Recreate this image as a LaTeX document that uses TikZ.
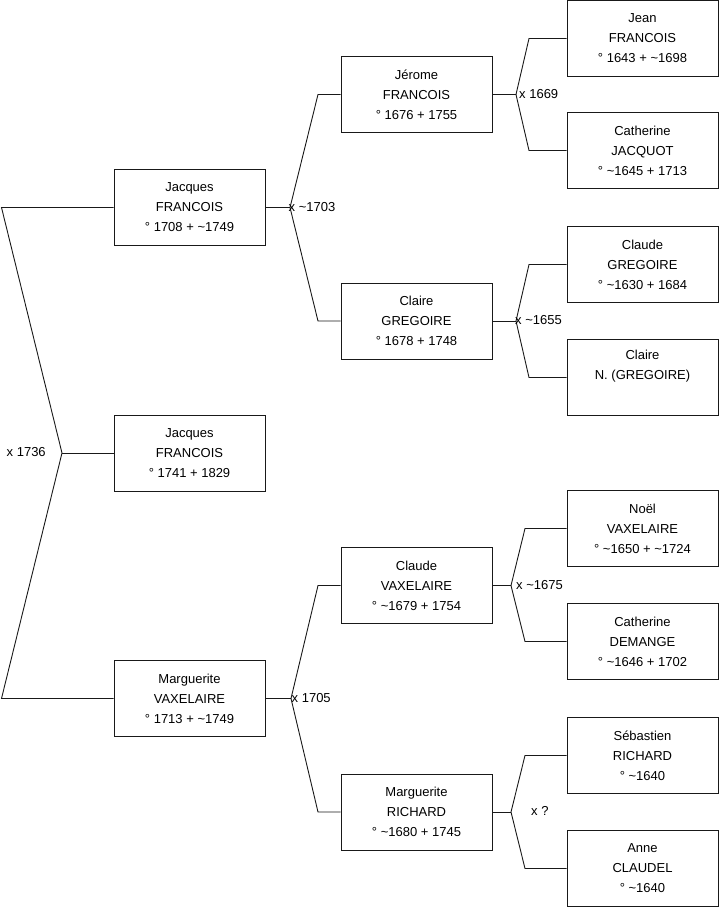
\documentclass[tikz,border=0pt]{standalone}
\usepackage{fontspec}
\setmainfont{Liberation Sans}
\begin{document}
\begin{tikzpicture}[x=1pt,y=-1pt,
  person/.style={draw=black!90, line width=0.9pt, minimum width=151pt, minimum height=76pt,
    align=center, inner sep=0pt, font=\fontsize{13}{20}\selectfont},
  link/.style={draw=black!90, line width=0.9pt},
  marr/.style={anchor=base west, inner sep=0pt, font=\fontsize{13}{15}\selectfont}]
\useasboundingbox (0,0) rectangle (719,908);
% column 1
\node[person] (a1) at (189.5,207.5) {Jacques\\FRANCOIS\\° 1708 + \textasciitilde1749};
\node[person] (a0) at (189.5,453) {Jacques\\FRANCOIS\\° 1741 + 1829};
\node[person] (a2) at (189.5,698.5) {Marguerite\\VAXELAIRE\\° 1713 + \textasciitilde1749};
% column 2
\node[person] (b1) at (416.5,94.5) {Jérome\\FRANCOIS\\° 1676 + 1755};
\node[person] (b2) at (416.5,321) {Claire\\GREGOIRE\\° 1678 + 1748};
\node[person] (b3) at (416.5,585.5) {Claude\\VAXELAIRE\\° \textasciitilde1679 + 1754};
\node[person] (b4) at (416.5,812) {Marguerite\\RICHARD\\° \textasciitilde1680 + 1745};
% column 3
\node[person] (c1) at (642.5,38.5) {Jean\\FRANCOIS\\° 1643 + \textasciitilde1698};
\node[person] (c2) at (642.5,150.5) {Catherine\\JACQUOT\\° \textasciitilde1645 + 1713};
\node[person] (c3) at (642.5,264.5) {Claude\\GREGOIRE\\° \textasciitilde1630 + 1684};
\node[person] (c4) at (642.5,377.5) {Claire\\N. (GREGOIRE)\\\strut};
\node[person] (c5) at (642.5,528.5) {Noël\\VAXELAIRE\\° \textasciitilde1650 + \textasciitilde1724};
\node[person] (c6) at (642.5,641.5) {Catherine\\DEMANGE\\° \textasciitilde1646 + 1702};
\node[person] (c7) at (642.5,755.5) {Sébastien\\RICHARD\\° \textasciitilde1640};
\node[person] (c8) at (642.5,868.5) {Anne\\CLAUDEL\\° \textasciitilde1640};
% junction points
\coordinate (v0) at (62,453);
\coordinate (t0) at (1.5,207.5);
\coordinate (u0) at (1.5,698.5);
\coordinate (v1) at (290,207.5);
\coordinate (t1) at (318,94.5);
\coordinate (u1) at (318,321);
\coordinate (v2) at (291,698.5);
\coordinate (t2) at (318,585.5);
\coordinate (u2) at (318,812);
\coordinate (v3) at (516,94.5);
\coordinate (t3) at (529,38.5);
\coordinate (u3) at (529,150.5);
\coordinate (v4) at (516,321);
\coordinate (t4) at (529,264.5);
\coordinate (u4) at (529,377.5);
\coordinate (v5) at (511,585.5);
\coordinate (t5) at (525,528.5);
\coordinate (u5) at (525,641.5);
\coordinate (v6) at (511,812);
\coordinate (t6) at (525,755.5);
\coordinate (u6) at (525,868.5);
% connectors
\draw[link] (a1.west) -- (t0) -- (v0) -- (u0) -- (a2.west);
\draw[link] (v0) -- (a0.west);
\draw[link] (b1.west) -- (t1) -- (v1) -- (u1) -- (b2.west);
\draw[link] (v1) -- (a1.east);
\draw[link] (b3.west) -- (t2) -- (v2) -- (u2) -- (b4.west);
\draw[link] (v2) -- (a2.east);
\draw[link] (c1.west) -- (t3) -- (v3) -- (u3) -- (c2.west);
\draw[link] (v3) -- (b1.east);
\draw[link] (c3.west) -- (t4) -- (v4) -- (u4) -- (c4.west);
\draw[link] (v4) -- (b2.east);
\draw[link] (c5.west) -- (t5) -- (v5) -- (u5) -- (c6.west);
\draw[link] (v5) -- (b3.east);
\draw[link] (c7.west) -- (t6) -- (v6) -- (u6) -- (c8.west);
\draw[link] (v6) -- (b4.east);
% marriage labels
\node[marr] (m0) at (6.5,456.5) {x 1736};
\node[marr] (m1) at (288.5,211) {x \textasciitilde1703};
\node[marr] (m2) at (291.5,702.5) {x 1705};
\node[marr] (m3) at (519,98.5) {x 1669};
\node[marr] (m4) at (515,324.5) {x \textasciitilde1655};
\node[marr] (m5) at (516,589.5) {x \textasciitilde1675};
\node[marr] (m6) at (531,815.5) {x ?};
\end{tikzpicture}
\end{document}
